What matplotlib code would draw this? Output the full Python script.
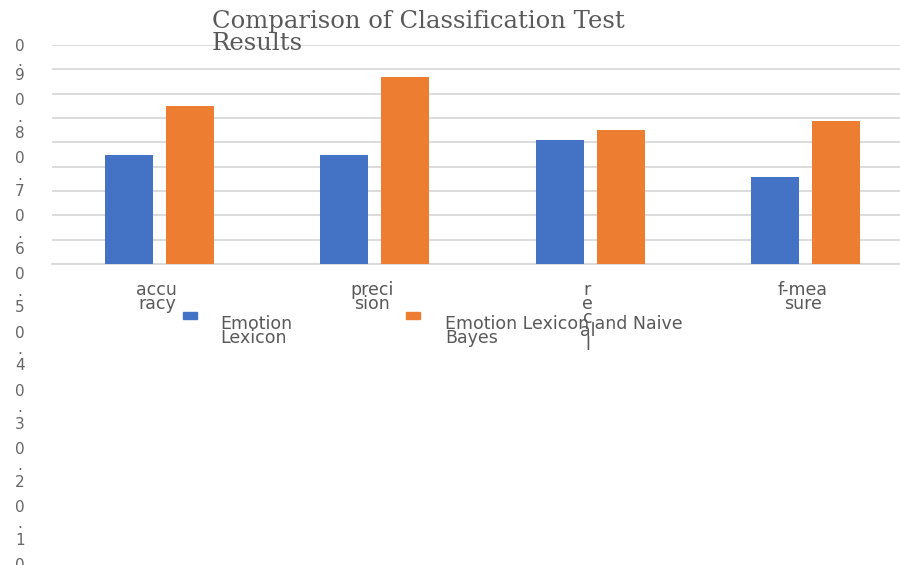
import matplotlib
matplotlib.use("Agg")
import matplotlib.pyplot as plt
from matplotlib.patches import Rectangle
from matplotlib.transforms import blended_transform_factory

# ---- data ----
categories = ["accu\nracy", "preci\nsion", "r\ne\nc\nal\nl", "f-mea\nsure"]
series_names = ["Emotion\nLexicon", "Emotion Lexicon and Naive\nBayes"]
lexicon = [0.447, 0.447, 0.508, 0.357]
lexicon_bayes = [0.649, 0.769, 0.550, 0.588]
ytick_labels = ["0", "0.1", "0.2", "0.3", "0.4", "0.5", "0.6", "0.7", "0.8", "0.9"]
title = "Comparison of Classification Test\nResults"

BLUE = "#4472C4"
ORANGE = "#ED7D31"
TEXT = "#595959"
AXTEXT = "#666666"
GRID = "#D9D9D9"

W, H = 900, 565
fig = plt.figure(figsize=(W / 100, H / 100), dpi=100)


def fx(px):
    return px / W


def fy(py):
    return 1 - py / H


# plot area (runs past the right edge of the canvas)
left, right, top, bottom = 51.8, 913.0, 45.0, 264.0
ax = fig.add_axes([fx(left), fy(bottom), (right - left) / W, (bottom - top) / H])
ax.set_xlim(-0.5, len(categories) - 0.5)
ax.set_ylim(0, 0.9)

yvals = [float(t) for t in ytick_labels]
ax.set_yticks(yvals)
ax.yaxis.grid(True, color=GRID, linewidth=1.3)
ax.set_axisbelow(True)
ax.tick_params(left=False, bottom=False, labelleft=False, labelbottom=False)
for s in ["left", "right", "top"]:
    ax.spines[s].set_visible(False)
ax.spines["bottom"].set_color(GRID)
ax.spines["bottom"].set_linewidth(1.3)

bw = 0.223
off = 0.1417
xs = range(len(categories))
ax.bar([x - off for x in xs], lexicon, width=bw, color=BLUE, zorder=3)
ax.bar([x + off for x in xs], lexicon_bayes, width=bw, color=ORANGE, zorder=3)

# category labels under the axis (wrapped)
tr = blended_transform_factory(ax.transData, fig.transFigure)
for x, lab in zip(xs, categories):
    ax.text(x - 0.012, fy(281), lab, transform=tr, ha="center", va="top",
            fontsize=12.5, color=TEXT, family="DejaVu Sans", linespacing=0.7)

# value axis labels, wrapped to one character per line
for i, lab in enumerate(reversed(ytick_labels)):
    first = 46 if i == 0 else 42 + 58.1 * i
    pitch = 14.5 if i == 0 else 16.5
    for j, ch in enumerate(lab):
        fig.text(fx(20), fy(first + 5 + pitch * j), ch, ha="center",
                 va="baseline", fontsize=11, color=AXTEXT, family="DejaVu Sans")

# title
fig.text(fx(212), fy(10), title, ha="left", va="top", fontsize=17.5,
         color=TEXT, family="DejaVu Serif", linespacing=0.92)

# legend
for (x0, tx), name, col in zip([(183, 220), (406, 445)], series_names, [BLUE, ORANGE]):
    fig.patches.append(Rectangle((fx(x0), fy(319)), 14 / W, 7 / H,
                                 transform=fig.transFigure, color=col))
    fig.text(fx(tx), fy(315), name, ha="left", va="top", fontsize=12.5,
             color=TEXT, family="DejaVu Sans", linespacing=0.7)

fig.savefig("out.png", dpi=100)
